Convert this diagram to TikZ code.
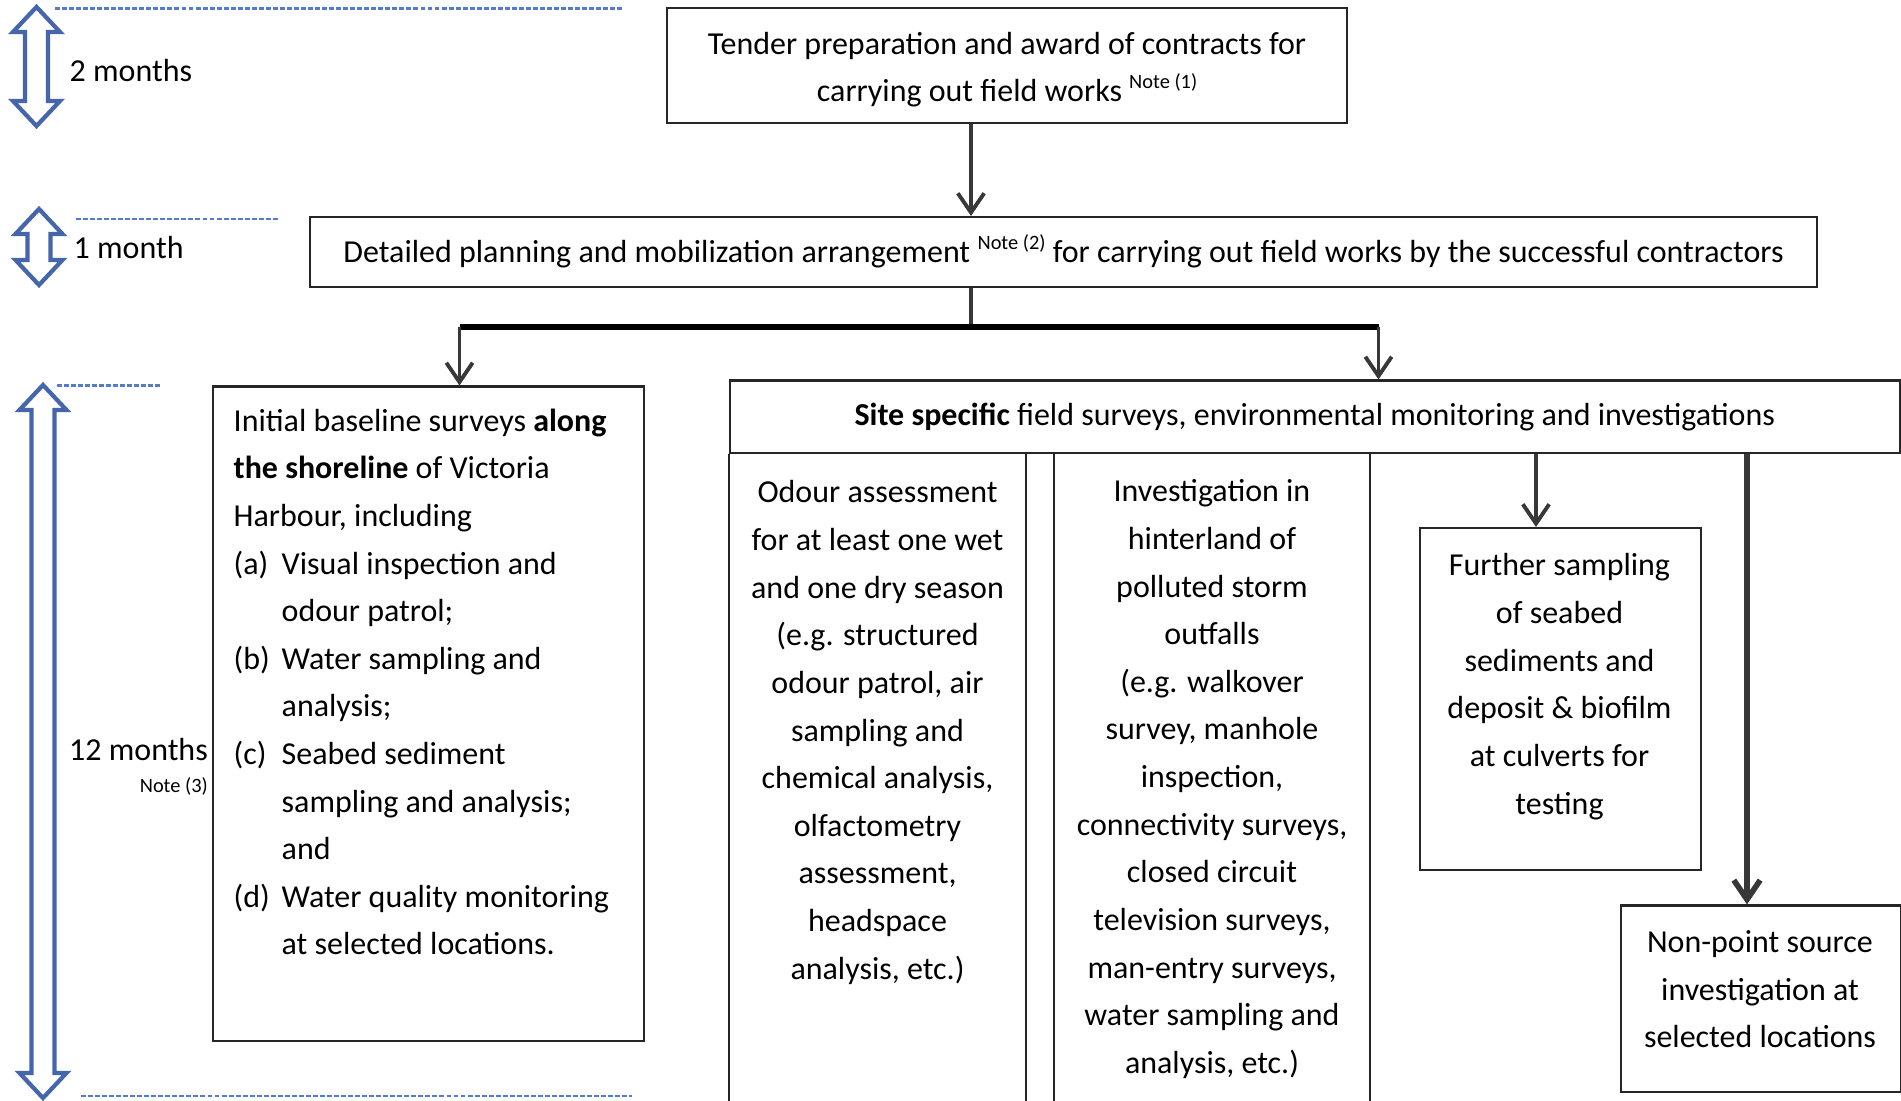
\documentclass[tikz,border=0pt]{standalone}
\usepackage{fontspec}
\setmainfont{Carlito}
\usetikzlibrary{arrows.meta, positioning}

\definecolor{spanblue}{RGB}{70,102,172}
\definecolor{guideblue}{RGB}{84,124,204}

\newcommand\mainsize{\fontsize{9.1}{13.55}\selectfont}
\newcommand\notemark[1]{\raisebox{0.4em}{\fontsize{5.8}{6}\selectfont Note (#1)}}
% hollow double arrow of the time axis: x, top y, bottom y
\newcommand\durarrow[3]{%
  \draw[span] (#1,#2) -- ({#1+0.235},{#2-0.25}) -- ({#1+0.115},{#2-0.25})
    -- ({#1+0.115},{#3+0.25}) -- ({#1+0.235},{#3+0.25}) -- (#1,#3)
    -- ({#1-0.235},{#3+0.25}) -- ({#1-0.115},{#3+0.25})
    -- ({#1-0.115},{#2-0.25}) -- ({#1-0.235},{#2-0.25}) -- cycle;}

\begin{document}
\begin{tikzpicture}[
    box/.style={draw=black!85, line width=0.6pt, inner sep=0pt, anchor=north west},
    txt/.style={font=\mainsize, inner sep=0pt, align=center, anchor=north},
    lbl/.style={font=\mainsize, inner sep=0pt},
    arr/.style={draw=black!78, line width=1.1pt, -{Straight Barb[length=5.5pt, width=7.5pt]}},
    stem/.style={draw=black!78, line width=1.1pt},
    bus/.style={draw=black, line width=1.5pt},
    span/.style={draw=spanblue, line width=1.2pt, fill=white, line join=miter},
    guide/.style={draw=guideblue, line width=0.8pt, dash pattern=on 1.4pt off 0.6pt},
]
\useasboundingbox (0,0) rectangle (19.01,-11.01);
\fill[white] (0,0) rectangle (19.01,-11.01);

% === time axis ===
\durarrow{0.365}{-0.07}{-1.26}
\durarrow{0.39}{-2.09}{-2.85}
\durarrow{0.43}{-3.85}{-10.98}
\draw[guide] (0.55,-0.085) -- (6.24,-0.085);
\draw[guide] (0.76,-2.19) -- (2.79,-2.19);
\draw[guide] (0.57,-3.855) -- (1.60,-3.855);
\draw[guide] (0.81,-10.96) -- (6.32,-10.96);
\node[lbl, anchor=west] (two) at (0.69,-0.71) {2 months};
\node[lbl, anchor=west] (one) at (0.73,-2.48) {1 month};
\node[lbl, anchor=east] (twelve) at (2.085,-7.50) {12 months};
\node[lbl, anchor=east, font=\fontsize{5.8}{6}\selectfont] (note3) at (2.085,-7.86) {Note (3)};

% === preparation ===
\node[box, minimum width=6.80cm, minimum height=1.15cm] (tender) at (6.66,-0.07) {};
\node[txt, anchor=center, yshift=-0.04cm] (tendertxt) at (tender.center)
    {Tender preparation and award of contracts for\\carrying out field works \notemark{1}};
\node[box, minimum width=15.07cm, minimum height=0.70cm] (plan) at (3.09,-2.16) {};
\node[txt, anchor=center, yshift=0.01cm] (plantxt) at (plan.center)
    {Detailed planning and mobilization arrangement \notemark{2} for carrying out field works by the successful contractors};

\coordinate (split) at (9.71,0);
\coordinate (busL) at (4.595,-3.27);
\coordinate (busR) at (13.785,-3.27);
\draw[arr] (tender.south -| split) -- (plan.north -| split);
\draw[stem] (plan.south -| split) -- (split |- busL);
\draw[bus] (busL) -- (busR);

% === baseline surveys ===
\node[box, minimum width=4.305cm, minimum height=6.545cm] (base) at (2.12,-3.855) {};
\node[txt, align=left, anchor=north west] (basetxt) at (2.33,-4.08) {%
    Initial baseline surveys \textbf{along}\\
    \textbf{the shoreline} of Victoria\\
    Harbour, including\\
    \makebox[0.48cm][l]{(a)}Visual inspection and\\
    \hspace*{0.48cm}odour patrol;\\
    \makebox[0.48cm][l]{(b)}Water sampling and\\
    \hspace*{0.48cm}analysis;\\
    \makebox[0.48cm][l]{(c)}Seabed sediment\\
    \hspace*{0.48cm}sampling and analysis;\\
    \hspace*{0.48cm}and\\
    \makebox[0.48cm][l]{(d)}Water quality monitoring\\
    \hspace*{0.48cm}at selected locations.};
\draw[arr] (busL) -- (base.north -| busL);

% === site specific works ===
\node[box, minimum width=11.70cm, minimum height=0.725cm, font=\mainsize] (site) at (7.287,-3.795)
    {\textbf{Site specific} field surveys, environmental monitoring and investigations};
\draw[arr] (busR) -- (site.north -| busR);

% open columns below the header
\draw[box] (site.south west) -- (7.287,-11.05);
\draw[box] (10.257,-4.52) -- (10.257,-11.05);
\draw[box] (10.536,-4.52) -- (10.536,-11.05);
\draw[box] (13.70,-4.52) -- (13.70,-11.05);

\node[txt] (odour) at (8.775,-4.80) {%
    Odour assessment\\for at least one wet\\and one dry season\\(e.g. structured\\odour patrol, air\\sampling and\\
    chemical analysis,\\olfactometry\\assessment,\\headspace\\analysis, etc.)};
\node[txt] (hinter) at (12.12,-4.79) {%
    Investigation in\\hinterland of\\polluted storm\\outfalls\\(e.g. walkover\\survey, manhole\\inspection,\\
    connectivity surveys,\\closed circuit\\television surveys,\\man-entry surveys,\\water sampling and\\analysis, etc.)};

\node[box, minimum width=2.815cm, minimum height=3.42cm] (further) at (14.185,-5.27) {};
\node[txt] (furthertxt) at (15.595,-5.53) {%
    Further sampling\\of seabed\\sediments and\\deposit \& biofilm\\at culverts for\\testing};
\node[box, minimum width=2.80cm, minimum height=1.865cm] (nonpoint) at (16.20,-9.045) {};
\node[txt] (nonpointtxt) at (17.60,-9.30) {%
    Non-point source\\investigation at\\selected locations};

\coordinate (fx) at (15.36,0);
\coordinate (nx) at (17.47,0);
\draw[arr] (site.south -| fx) -- (further.north -| fx);
\draw[arr, line width=1.6pt] (site.south -| nx) -- (nonpoint.north -| nx);
\end{tikzpicture}
\end{document}
